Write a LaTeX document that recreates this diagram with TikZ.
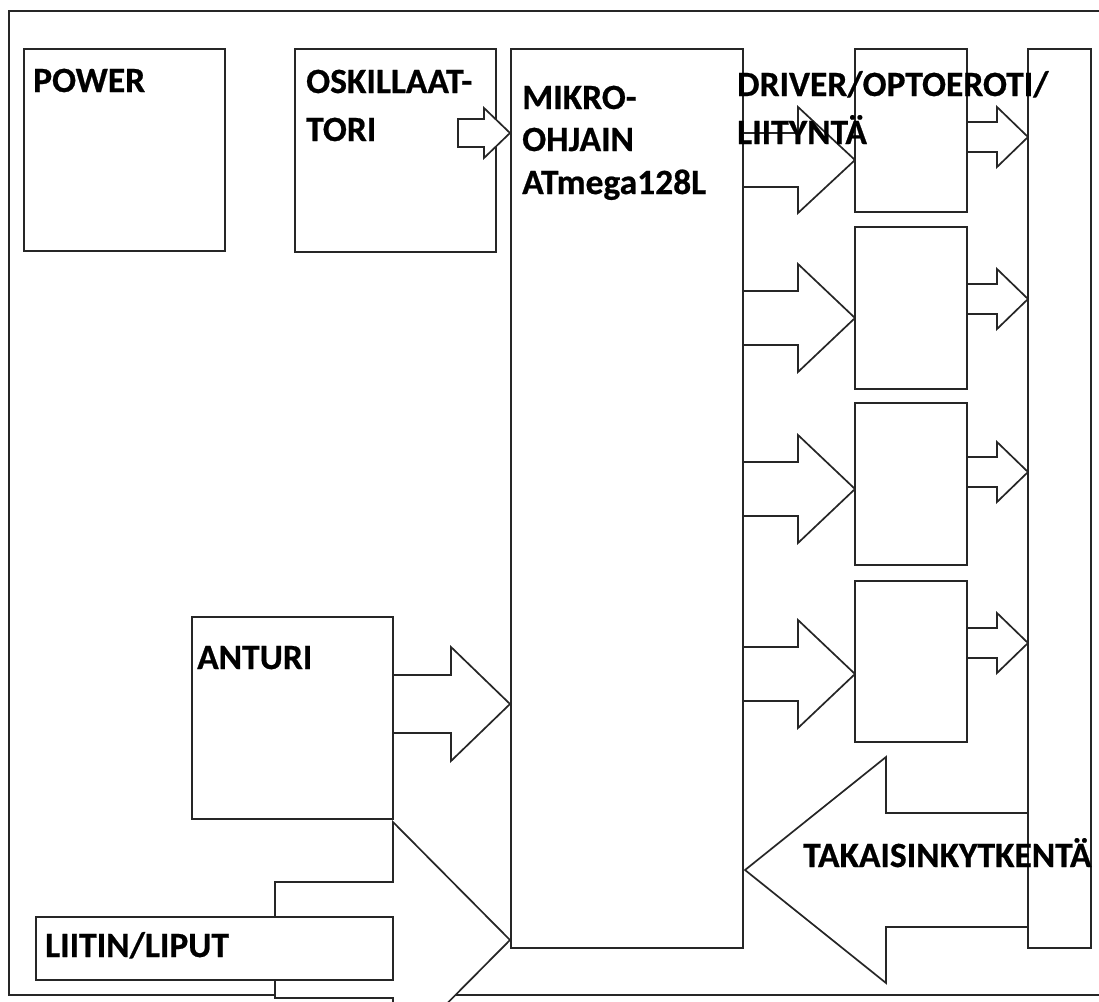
\documentclass[tikz,border=0pt]{standalone}
\usepackage{fontspec}
\setmainfont{Carlito}
\newfontfamily\lblfont{Carlito}[UprightFont={* Bold}, FakeBold=0.6]
\newcommand\blkarrow[6]{%
  \draw[arr] (#1,#4-#5) -- (#2,#4-#5) -- (#2,#4-#6) -- (#3,#4) -- (#2,#4+#6) -- (#2,#4+#5) -- (#1,#4+#5) -- cycle;}
\begin{document}
\begin{tikzpicture}[x=1pt,y=-1pt,
  ln/.style={draw=black!85, line width=1.9pt, line join=miter},
  arr/.style={ln, fill=white, line width=1.7pt},
  box/.style={ln, fill=white, rectangle, inner sep=0pt, outer sep=0pt, anchor=north west},
  lbl/.style={font=\fontsize{35.5}{40}\lblfont, anchor=base west, inner sep=0pt, text=black}]
\useasboundingbox (0,0) rectangle (1099,1001);
\clip (0,0) rectangle (1099,1001);
% outer frame (open to the right)
\draw[ln] (1110,11) -- (9,11) -- (9,995) -- (1110,995);
% block arrows behind the boxes
\blkarrow{743}{798}{855}{160}{27}{53}
\blkarrow{743}{798}{855}{318}{27}{54}
\blkarrow{743}{798}{855}{489}{27}{54}
\blkarrow{743}{798}{855}{674}{27}{54}
\blkarrow{967}{997}{1028}{137}{15}{30}
\blkarrow{967}{997}{1028}{299}{15}{30}
\blkarrow{967}{997}{1028}{472}{15}{30}
\blkarrow{967}{997}{1028}{643}{15}{30}
\blkarrow{393}{451}{510}{704}{29}{57}
\blkarrow{275}{393}{510}{940}{58}{118}
\blkarrow{1028}{886}{745}{870}{57}{113}
% boxes
\node[box, minimum width=201pt, minimum height=202pt] (power) at (24,49) {};
\node[box, minimum width=201pt, minimum height=203pt] (osc) at (295,49) {};
\node[box, minimum width=232pt, minimum height=899pt] (mcu) at (511,49) {};
\node[box, minimum width=112pt, minimum height=163pt] (drv1) at (855,49) {};
\node[box, minimum width=112pt, minimum height=162pt] (drv2) at (855,227) {};
\node[box, minimum width=112pt, minimum height=162pt] (drv3) at (855,403) {};
\node[box, minimum width=112pt, minimum height=161pt] (drv4) at (855,581) {};
\node[box, minimum width=63pt, minimum height=899pt] (bar) at (1028,49) {};
\node[box, minimum width=201pt, minimum height=202pt] (anturi) at (192,617) {};
\node[box, minimum width=357pt, minimum height=63pt] (liitin) at (36,917) {};
% oscillator arrow lies over its box
\blkarrow{458}{484}{510}{133}{14}{25}
% texts
\node[lbl] (tpower) at (33,92) {POWER};
\node[lbl] (tosc1) at (306,93) {OSKILLAAT-};
\node[lbl] (tosc2) at (306,141) {TORI};
\node[lbl] (tmcu1) at (522,109) {MIKRO-};
\node[lbl] (tmcu2) at (522,151) {OHJAIN};
\node[lbl] (tmcu3) at (522,194) {ATmega128L};
\node[lbl] (tdrv1) at (737,96) {DRIVER/OPTOEROTI/};
\node[lbl] (tdrv2) at (737,144) {LIITYNTÄ};
\node[lbl] (tant) at (197,669) {ANTURI};
\node[lbl] (tlii) at (45,957) {LIITIN/LIPUT};
\node[lbl] (tfb) at (803,867) {TAKAISINKYTKENTÄ};
\end{tikzpicture}
\end{document}
